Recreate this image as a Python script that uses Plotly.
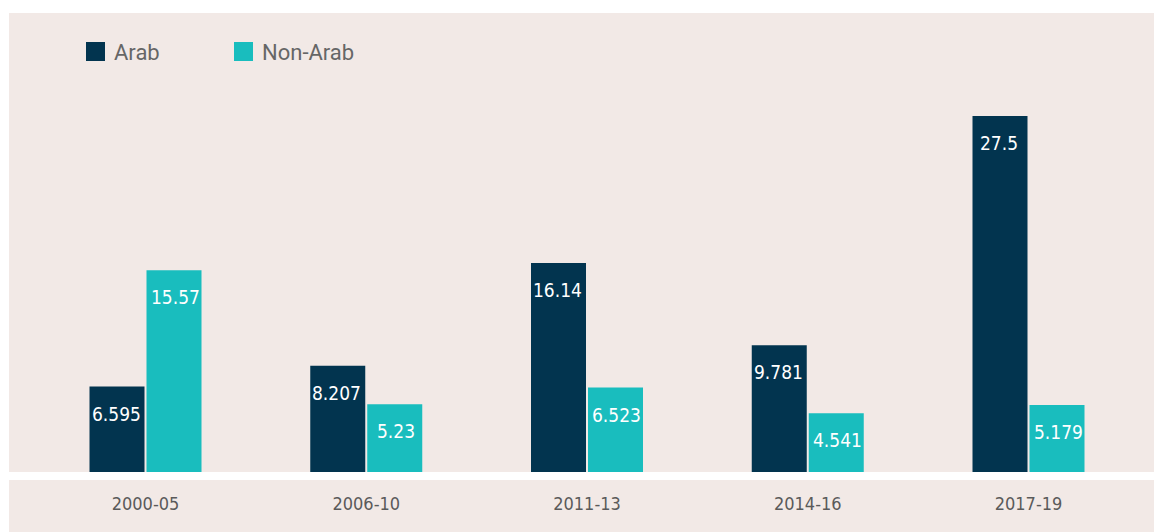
import plotly.graph_objects as go

categories = ["2000-05", "2006-10", "2011-13", "2014-16", "2017-19"]
arab = [6.595, 8.207, 16.14, 9.781, 27.5]
non_arab = [15.57, 5.23, 6.523, 4.541, 5.179]
arab_labels = ["6.595", "8.207", "16.14", "9.781", "27.5"]
non_arab_labels = ["15.57", "5.23", "6.523", "4.541", "5.179"]
series_names = ["Arab", "Non-Arab"]

C_ARAB = "#02344f"
C_NON = "#19bdbe"
BG = "#f2e9e6"
COND = "DejaVu Sans Condensed, Liberation Sans Narrow, Liberation Sans, sans-serif"

W, H = 1154, 532
ML, MR, MT, MB = 9, 0, 13, 532 - 472
PW = W - ML - MR
PH = H - MT - MB
CAT_PX = 220.75
Y_PX = 12.95

fig = go.Figure()
fig.add_trace(go.Bar(x=categories, y=arab, name=series_names[0], marker_color=C_ARAB,
                     marker_line_width=0, showlegend=False, hoverinfo="x+y"))
fig.add_trace(go.Bar(x=categories, y=non_arab, name=series_names[1], marker_color=C_NON,
                     marker_line_width=0, showlegend=False, hoverinfo="x+y"))

ann = []
for i, c in enumerate(categories):
    ann.append(dict(x=c, y=arab[i], text=arab_labels[i], xshift=-29.5, yshift=-27,
                    showarrow=False, yanchor="middle",
                    font=dict(family=COND, size=19, color="white")))
    ann.append(dict(x=c, y=non_arab[i], text=non_arab_labels[i], xshift=29.5, yshift=-27,
                    showarrow=False, yanchor="middle",
                    font=dict(family=COND, size=19, color="white")))

def sx(px):
    return (px - ML) / PW

def sy(py):
    return (H - MB - py) / PH

shapes = [
    dict(type="rect", xref="paper", yref="paper", x0=0, x1=1,
         y0=sy(540), y1=sy(480), fillcolor=BG, line_width=0, layer="below"),
]
legend_items = [(series_names[0], C_ARAB, 86), (series_names[1], C_NON, 234)]
for name, col, lx in legend_items:
    shapes.append(dict(type="rect", xref="paper", yref="paper",
                       x0=sx(lx), x1=sx(lx + 19), y0=sy(61), y1=sy(42),
                       fillcolor=col, line_width=0))
    ann.append(dict(xref="paper", yref="paper", x=sx(lx + 26), y=sy(52),
                    xanchor="left", yanchor="middle", showarrow=False, text=name,
                    font=dict(family="Roboto, sans-serif", size=22, color="#666666")))

r0 = -(145.5 - ML) / CAT_PX
fig.update_layout(
    width=W, height=H,
    margin=dict(l=ML, r=MR, t=MT, b=MB, pad=0),
    paper_bgcolor="white", plot_bgcolor=BG,
    barmode="group", bargap=1 - 114 / CAT_PX, bargroupgap=0.035,
    annotations=ann, shapes=shapes,
    xaxis=dict(type="category", range=[r0, r0 + PW / CAT_PX],
               showgrid=False, zeroline=False, showline=False, ticks="",
               ticklabelstandoff=19,
               tickfont=dict(family=COND, size=18, color="#5a5a5a")),
    yaxis=dict(range=[0, PH / Y_PX], showgrid=False, zeroline=False,
               showticklabels=False, ticks="", showline=False),
)

fig.write_html(
    "out.html",
    config={"displayModeBar": False, "responsive": False},
    post_script=(
        "document.documentElement.style.margin='0';"
        "document.documentElement.style.overflow='hidden';"
        "document.body.style.margin='0';"
        "document.body.style.overflow='hidden';"
    ),
)
